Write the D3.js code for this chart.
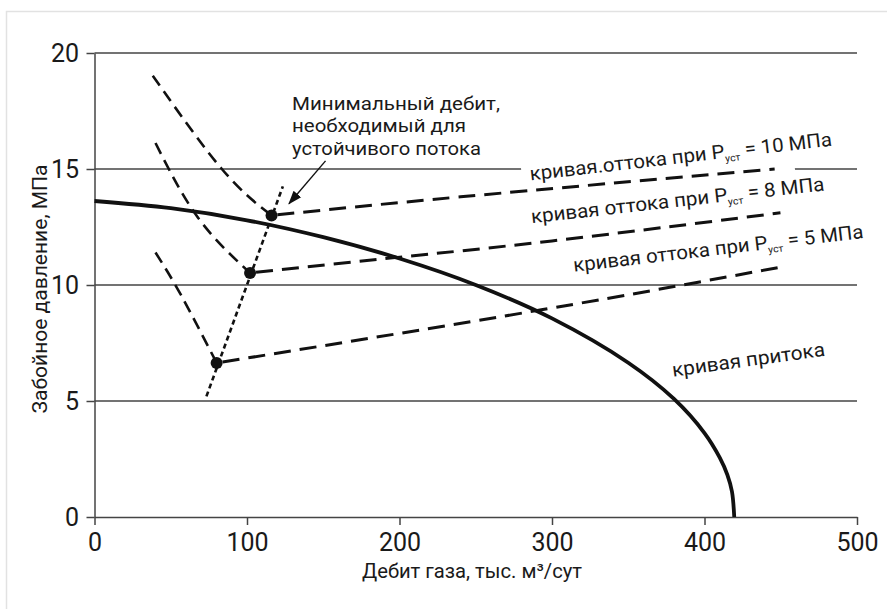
<!DOCTYPE html>
<html><head><meta charset="utf-8">
<script src="https://cdn.jsdelivr.net/npm/d3@7"></script>
<style>
html,body{margin:0;padding:0;background:#fff;}
text{font-family:Roboto,"Open Sans",sans-serif;fill:#1a1a1a;}
</style></head>
<body>
<svg id="chart" width="887" height="609"></svg>
<script>
// ---- data ----
const xTicks = [0, 100, 200, 300, 400, 500];
const yTicks = [0, 5, 10, 15, 20];
const xTitle = "Дебит газа, тыс. м³/сут";
const yTitle = "Забойное давление, МПа";

// inflow curve (кривая притока): [rate, pressure]
const inflow = [[0,13.62],[50,13.31],[100,12.79],[150,12.06],[200,11.14],[250,10.0],[300,8.56],[350,6.65],[380,5.09],[400,3.62],[410,2.56],[415,1.82],[418,1.1],[419.5,0]];

// outflow curves, left (unstable) branches
const out10Left = [[38.2,19.02],[83.5,15.0],[116.1,13.0]];
const out8Left  = [[40,16.12],[67.9,12.9],[102,10.52]];
const out5Left  = [[40,11.4],[56.7,9.57],[80.1,6.64]];
// outflow curves, right (stable) branches
const out10Right = [[116.1,13.0],[240,13.8],[446,15.0]];
const out8Right  = [[102,10.52],[197,11.18],[300,11.9],[449.8,13.11]];
const out5Right  = [[80.1,6.64],[293,8.93],[449.8,10.77]];
// minimum rate line and points
const minRateLine = [[73.4,5.2],[123.5,14.25]];
const minRatePoints = [[116.1,13.0],[102,10.52],[80.1,6.64]];
const arrowFromTo = [[151.5,15.35],[127.5,13.5]];

const annotationLines = ["Минимальный дебит,", "необходимый для", "устойчивого потока"];
const curveLabels = [
  {pre:"кривая.оттока при P", sub:"уст", post:" = 10 МПа"},
  {pre:"кривая оттока при P", sub:"уст", post:" = 8 МПа"},
  {pre:"кривая оттока при P", sub:"уст", post:" = 5 МПа"},
  {pre:"кривая притока", sub:"", post:""}
];

// ---- layout ----
const svg = d3.select("#chart");
const x = d3.scaleLinear().domain([0,500]).range([94.5,857]);
const y = d3.scaleLinear().domain([0,20]).range([517,53]);
const gridColor = "#444";

// frame
svg.append("path").attr("d","M6.5,609 V11.5 H887").attr("fill","none").attr("stroke","#e2e2e2").attr("stroke-width",1.5);

// gridlines
svg.append("g").selectAll("line").data(yTicks.filter(d=>d>0)).join("line")
  .attr("x1",x(0)).attr("x2",x(500)).attr("y1",d=>y(d)).attr("y2",d=>y(d))
  .attr("stroke",gridColor).attr("stroke-width",1.5);

// label placement
const labelPos = [
  {x:530.5,y:180.6,a:-6.6,w:304},
  {x:531.7,y:223.3,a:-6.4,w:295},
  {x:574,y:271.8,a:-6.65,w:292},
  {x:673,y:376.7,a:-7.8,w:154}
];
// white knock-out behind label 1
svg.append("rect").attr("x",-8).attr("y",-17).attr("width",272).attr("height",37)
  .attr("fill","#fff")
  .attr("transform",`translate(${labelPos[0].x},${labelPos[0].y}) rotate(${labelPos[0].a})`);

// axes
const yAxis = svg.append("g").attr("transform",`translate(${x(0)},0)`)
  .call(d3.axisLeft(y).tickValues(yTicks).tickSize(8).tickPadding(7.5).tickSizeOuter(0));
const xAxis = svg.append("g").attr("transform",`translate(0,${y(0)})`)
  .call(d3.axisBottom(x).tickValues(xTicks).tickSize(8).tickPadding(8).tickSizeOuter(0));
[yAxis,xAxis].forEach(g=>{
  g.select(".domain").attr("stroke",gridColor).attr("stroke-width",1.5);
  g.selectAll(".tick line").attr("stroke",gridColor).attr("stroke-width",1.5);
  g.selectAll(".tick text").attr("font-size",25).attr("fill","#1a1a1a")
    .attr("font-family","Roboto,sans-serif");
});

// axis titles
svg.append("text").attr("x",472).attr("y",578).attr("text-anchor","middle")
  .attr("font-size",20).attr("textLength",220).attr("lengthAdjust","spacingAndGlyphs").text(xTitle);
svg.append("text").attr("transform",`translate(47,289) rotate(-90)`).attr("text-anchor","middle")
  .attr("font-size",20).attr("textLength",249).attr("lengthAdjust","spacingAndGlyphs").text(yTitle);

const line = d3.line().x(d=>x(d[0])).y(d=>y(d[1]));
const lineC = d3.line().x(d=>x(d[0])).y(d=>y(d[1])).curve(d3.curveCatmullRom.alpha(0.5));
const lineN = d3.line().x(d=>x(d[0])).y(d=>y(d[1])).curve(d3.curveNatural);

// inflow
svg.append("path").attr("d",lineC(inflow)).attr("fill","none").attr("stroke","#111").attr("stroke-width",3.8);

// left branches
[out10Left,out8Left,out5Left].forEach(arr=>{
  svg.append("path").attr("d",lineN(arr)).attr("fill","none").attr("stroke","#111")
    .attr("stroke-width",2.6).attr("stroke-dasharray","12,7");
});
// right branches
[out10Right,out8Right,out5Right].forEach(arr=>{
  svg.append("path").attr("d",lineN(arr)).attr("fill","none").attr("stroke","#111")
    .attr("stroke-width",3).attr("stroke-dasharray","17,9").attr("stroke-dashoffset",-6);
});
// minimum rate dotted line
svg.append("path").attr("d",line(minRateLine)).attr("fill","none").attr("stroke","#111")
  .attr("stroke-width",2.6).attr("stroke-dasharray","5,3.5");
// points
svg.append("g").selectAll("circle").data(minRatePoints).join("circle")
  .attr("cx",d=>x(d[0])).attr("cy",d=>y(d[1])).attr("r",6).attr("fill","#111");

// arrow
const defs = svg.append("defs");
defs.append("marker").attr("id","ah").attr("markerUnits","userSpaceOnUse")
  .attr("markerWidth",14).attr("markerHeight",12).attr("refX",13).attr("refY",5)
  .attr("orient","auto").attr("viewBox","0 0 14 10")
  .append("path").attr("d","M0,0 L14,5 L0,10 Z").attr("fill","#111");
svg.append("line").attr("x1",x(arrowFromTo[0][0])).attr("y1",y(arrowFromTo[0][1]))
  .attr("x2",x(arrowFromTo[1][0])).attr("y2",y(arrowFromTo[1][1]))
  .attr("stroke","#111").attr("stroke-width",1.4).attr("marker-end","url(#ah)");

// annotation text
const annW = [208, 174, 189];
svg.append("g").selectAll("text").data(annotationLines).join("text")
  .attr("x",292).attr("y",(d,i)=>109.5+i*22.5).attr("font-size",19)
  .attr("textLength",(d,i)=>annW[i]).attr("lengthAdjust","spacingAndGlyphs").text(d=>d);

// curve labels
curveLabels.forEach((c,i)=>{
  const p = labelPos[i];
  const t = svg.append("text").attr("transform",`translate(${p.x},${p.y}) rotate(${p.a})`)
    .attr("font-size",19.5).attr("textLength",p.w).attr("lengthAdjust","spacingAndGlyphs");
  t.append("tspan").text(c.pre);
  if (c.sub) {
    t.append("tspan").attr("font-size",10).attr("dy",4).text(c.sub);
    t.append("tspan").attr("dy",-4).text(c.post);
  }
});
</script>
</body></html>
